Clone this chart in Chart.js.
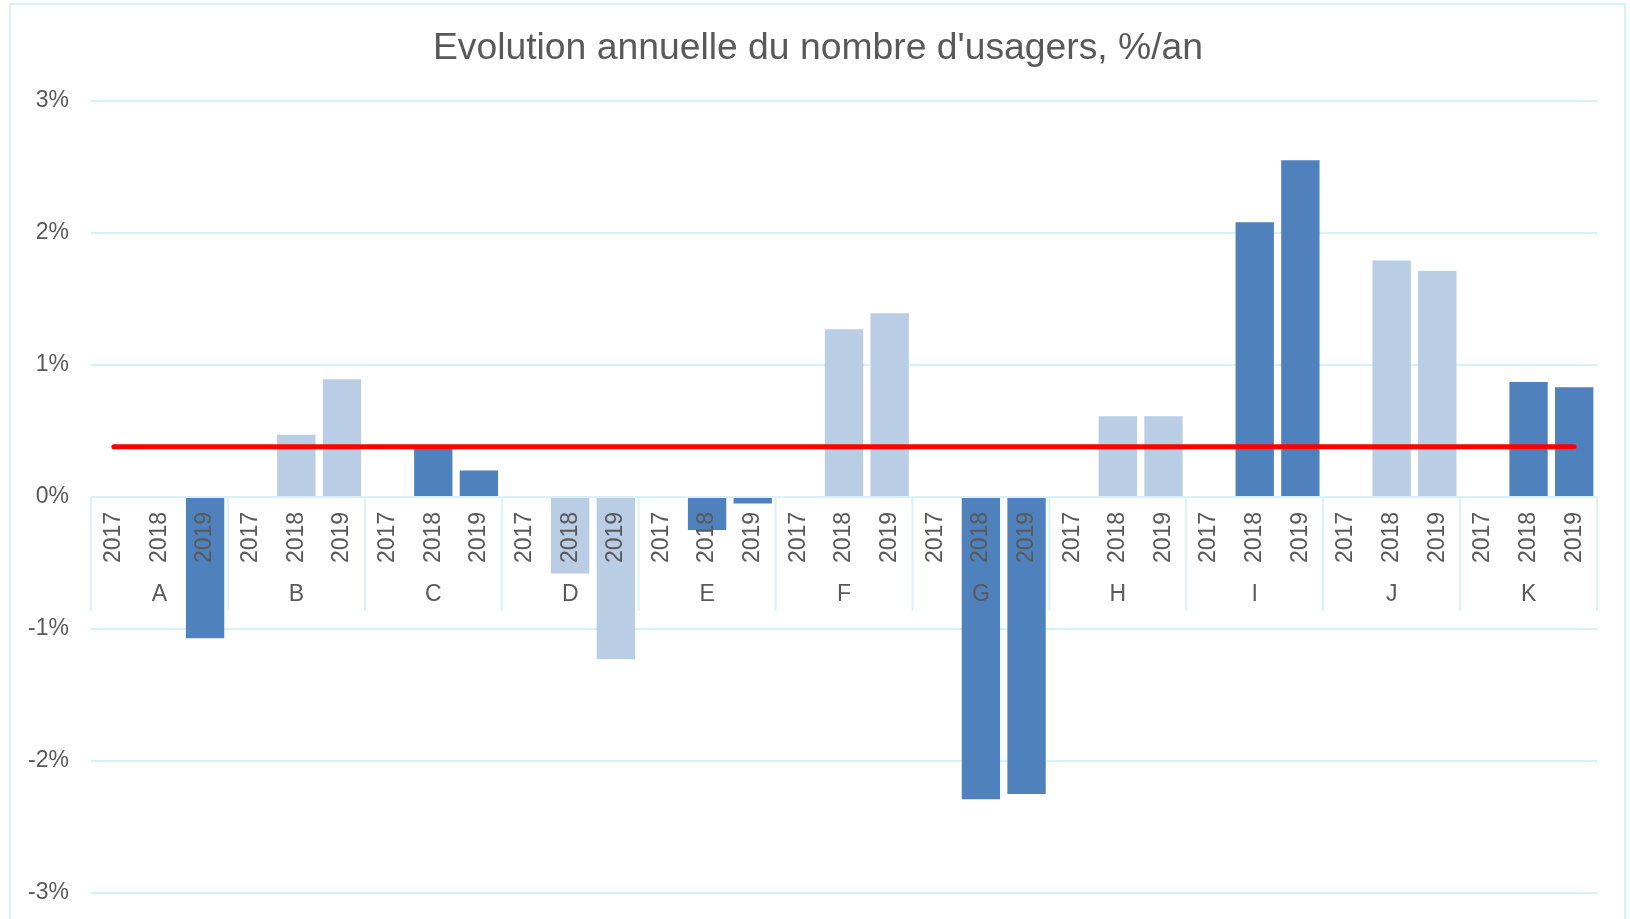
<!DOCTYPE html>
<html>
<head>
<meta charset="utf-8">
<title>Evolution annuelle du nombre d'usagers</title>
<script src="https://cdn.jsdelivr.net/npm/chart.js@4/dist/chart.umd.min.js"></script>
<style>
  html, body { margin: 0; padding: 0; background: #fff; }
  #wrap { position: relative; width: 1630px; height: 919px; }
</style>
</head>
<body>
<div id="wrap"><canvas id="usagersChart"></canvas></div>
<script>
// categories
const groups = ['A', 'B', 'C', 'D', 'E', 'F', 'G', 'H', 'I', 'J', 'K'];
const years = ['2017', '2018', '2019'];

// evolution %/an, one value per year (2017 has no bar)
const valA = [null, null, -1.07];
const valB = [null, 0.47, 0.89];
const valC = [null, 0.37, 0.20];
const valD = [null, -0.58, -1.23];
const valE = [null, -0.25, -0.05];
const valF = [null, 1.27, 1.39];
const valG = [null, -2.29, -2.25];
const valH = [null, 0.61, 0.61];
const valI = [null, 2.08, 2.55];
const valJ = [null, 1.79, 1.71];
const valK = [null, 0.87, 0.83];

// red reference line
const moyenne = 0.38;

// y axis ticks
const yTicks = [-3, -2, -1, 0, 1, 2, 3];

const labels = groups.flatMap(() => years);
const values = [valA, valB, valC, valD, valE, valF, valG, valH, valI, valJ, valK].flat();
const moyenneLine = labels.map(() => moyenne);

const textColor = '#595959';
const gridColor = '#D9F1F9';
const darkBlue = '#4F81BD';
const lightBlue = '#B9CDE5';
const fontFamily = '"Liberation Sans", Arial, sans-serif';

// group letters and box separators under the year labels
const groupAxis = {
    id: 'groupAxis',
    beforeDraw(chart) {
        const ctx = chart.ctx;
        ctx.save();
        ctx.strokeStyle = gridColor;
        ctx.lineWidth = 2;
        ctx.strokeRect(10, 4, 1615, 960);
        ctx.restore();
    },
    beforeDatasetsDraw(chart) {
        const x = chart.scales.x;
        const y0 = chart.scales.y.getPixelForValue(0);
        const half = (x.getPixelForValue(1) - x.getPixelForValue(0)) / 2;
        const ctx = chart.ctx;
        ctx.save();
        ctx.strokeStyle = gridColor;
        ctx.lineWidth = 2;
        for (let g = 0; g <= groups.length; g++) {
            const px = g < groups.length
                ? x.getPixelForValue(g * years.length) - half
                : x.getPixelForValue(g * years.length - 1) + half;
            ctx.beginPath();
            ctx.moveTo(px, y0);
            ctx.lineTo(px, y0 + 114);
            ctx.stroke();
        }
        ctx.restore();
    },
    afterDatasetsDraw(chart) {
        const x = chart.scales.x;
        const y0 = chart.scales.y.getPixelForValue(0);
        const ctx = chart.ctx;
        ctx.save();
        ctx.fillStyle = textColor;
        ctx.font = '23px ' + fontFamily;
        ctx.textAlign = 'center';
        ctx.textBaseline = 'middle';
        groups.forEach((g, i) => {
            const px = x.getPixelForValue(i * years.length + 1);
            ctx.fillText(g, px, y0 + 98);
        });
        ctx.restore();
    }
};

new Chart(document.getElementById('usagersChart'), {
    type: 'bar',
    data: {
        labels: labels,
        datasets: [{
            type: 'line',
            label: 'Moyenne',
            data: moyenneLine,
            borderColor: '#FF0000',
            borderWidth: 5,
            borderCapStyle: 'round',
            pointRadius: 0,
            order: 0
        }, {
            label: 'Evolution',
            data: values,
            backgroundColor: (c) => Math.floor(c.dataIndex / years.length) % 2 === 0 ? darkBlue : lightBlue,
            barPercentage: 0.84,
            categoryPercentage: 1,
            order: 1
        }]
    },
    options: {
        responsive: true,
        maintainAspectRatio: false,
        animation: false,
        layout: {
            padding: { left: 6, right: 0, top: 0, bottom: 26 }
        },
        plugins: {
            legend: { display: false },
            tooltip: { enabled: false },
            title: {
                display: true,
                text: "Evolution annuelle du nombre d'usagers, %/an",
                color: textColor,
                font: { family: fontFamily, size: 37.3, weight: 'normal' },
                padding: { top: 26, bottom: 30 }
            }
        },
        scales: {
            x: {
                type: 'category',
                position: { y: 0 },
                offset: true,
                grid: { display: false },
                border: { display: false },
                ticks: {
                    autoSkip: false,
                    minRotation: 90,
                    maxRotation: 90,
                    padding: 7,
                    color: textColor,
                    font: { family: fontFamily, size: 23 },
                    z: 1
                }
            },
            y: {
                min: yTicks[0],
                max: yTicks[yTicks.length - 1],
                afterFit: (scale) => { scale.width = 85; },
                grid: { color: gridColor, lineWidth: 2, drawTicks: true, tickLength: 22, tickColor: 'rgba(0,0,0,0)' },
                border: { display: false },
                ticks: {
                    stepSize: 1,
                    padding: 0,
                    color: textColor,
                    font: { family: fontFamily, size: 23 },
                    callback: (v) => v + '%'
                }
            },
            // empty right-hand margin of the plot
            yRight: {
                position: 'right',
                min: yTicks[0],
                max: yTicks[yTicks.length - 1],
                afterFit: (scale) => { scale.width = 33; },
                grid: { display: false },
                border: { display: false },
                ticks: { display: false }
            }
        }
    },
    plugins: [groupAxis]
});
</script>
</body>
</html>
